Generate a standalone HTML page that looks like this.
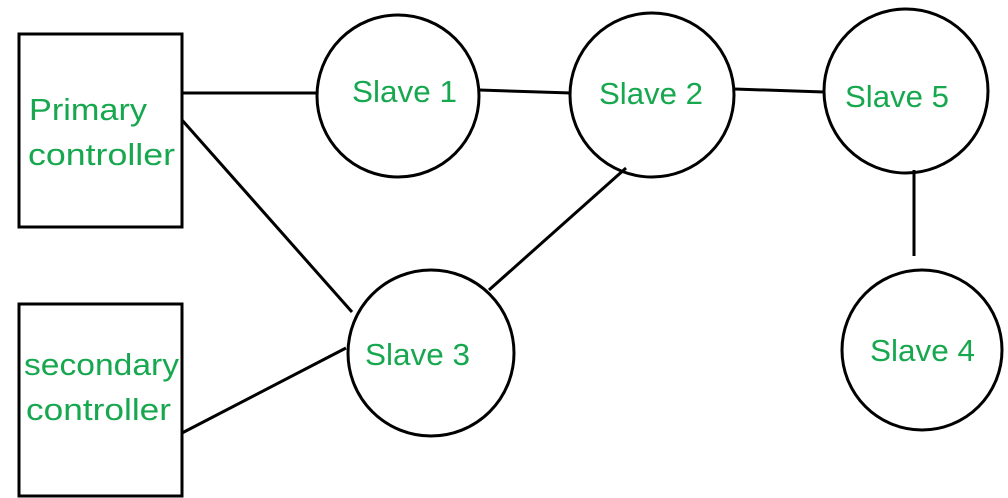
<!DOCTYPE html>
<html><head><meta charset="utf-8"><style>
html,body{margin:0;padding:0;background:#fff;}
svg{display:block;}
text{font-family:"Liberation Sans",sans-serif;font-size:31px;fill:#17a84f;}
</style></head><body>
<svg width="1008" height="498" viewBox="0 0 1008 498" xmlns="http://www.w3.org/2000/svg">
<g stroke="#000" stroke-width="3" fill="none">
<rect x="19" y="34" width="163" height="193"/>
<rect x="19" y="304" width="163" height="192"/>
<circle cx="398" cy="96" r="81"/>
<circle cx="652" cy="95" r="82"/>
<circle cx="906" cy="91" r="82"/>
<circle cx="431" cy="353" r="83"/>
<circle cx="922" cy="350" r="80"/>
<line x1="182" y1="93" x2="317" y2="93"/>
<line x1="182" y1="120" x2="352" y2="312"/>
<line x1="182" y1="433" x2="346" y2="348"/>
<line x1="479" y1="90" x2="571" y2="93"/>
<line x1="489" y1="290" x2="626" y2="168"/>
<line x1="734" y1="89" x2="824" y2="92"/>
<line x1="914" y1="170" x2="914" y2="256"/>
</g>
<text x="29" y="120" textLength="118" lengthAdjust="spacingAndGlyphs">Primary</text>
<text x="28" y="165" textLength="147" lengthAdjust="spacingAndGlyphs">controller</text>
<text x="24" y="375" textLength="155" lengthAdjust="spacingAndGlyphs">secondary</text>
<text x="26" y="420" textLength="145" lengthAdjust="spacingAndGlyphs">controller</text>
<text x="352" y="102" textLength="105" lengthAdjust="spacingAndGlyphs">Slave 1</text>
<text x="599" y="104" textLength="104" lengthAdjust="spacingAndGlyphs">Slave 2</text>
<text x="845" y="107" textLength="104" lengthAdjust="spacingAndGlyphs">Slave 5</text>
<text x="365" y="365" textLength="105" lengthAdjust="spacingAndGlyphs">Slave 3</text>
<text x="870" y="361" textLength="105" lengthAdjust="spacingAndGlyphs">Slave 4</text>
</svg>
</body></html>
